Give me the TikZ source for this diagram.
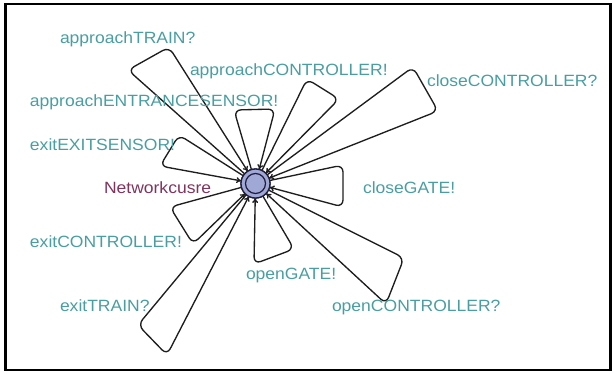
\documentclass[tikz,border=0pt]{standalone}
\usepackage{fontspec}
\setmainfont{Liberation Sans}[FakeStretch=1.075]
\usetikzlibrary{arrows.meta}
\definecolor{synccol}{RGB}{72,158,160}
\definecolor{namecol}{RGB}{128,52,92}
\definecolor{statefill}{RGB}{160,168,214}
\definecolor{stateline}{RGB}{30,30,60}
\definecolor{edgecol}{RGB}{30,30,30}
\tikzset{
  lbl/.style={anchor=base west, inner sep=0pt, outer sep=0pt, text=synccol,
              font=\fontsize{16.3}{18}\selectfont},
  locname/.style={lbl, text=namecol},
  loc/.style={circle, draw=stateline, line width=1.3pt, fill=statefill,
              minimum size=29pt, inner sep=0pt, outer sep=0pt},
  locinner/.style={circle, draw=stateline, line width=1.2pt,
              minimum size=20pt, inner sep=0pt, outer sep=0pt},
  selfloop/.style={draw=edgecol, line width=1.35pt, rounded corners=7pt,
              -{To[length=5pt,width=6pt]}},
}
\begin{document}
\begin{tikzpicture}[x=1pt,y=-1pt]
\useasboundingbox (0,0) rectangle (614,373);
% frame
\draw[line width=2.5pt] (5.5,4) rectangle (610.5,370);

% the single location
\node[loc] (s) at (255.5,183.5) {};
\node[locinner] (sin) at (s.center) {};

% nails of the self-loops
\coordinate (aTrainA) at (128,70);  \coordinate (aTrainB) at (169,47);
\coordinate (aCtrlA)  at (307,79);  \coordinate (aCtrlB)  at (339,99);
\coordinate (cCtrlA)  at (413,67);  \coordinate (cCtrlB)  at (438,111);
\coordinate (aEntrA)  at (234,110); \coordinate (aEntrB)  at (275,109);
\coordinate (eExitA)  at (179,135); \coordinate (eExitB)  at (160,166);
\coordinate (cGateA)  at (343,165); \coordinate (cGateB)  at (343,207);
\coordinate (oCtrlA)  at (404,258); \coordinate (oCtrlB)  at (386,304);
\coordinate (oGateA)  at (294,249); \coordinate (oGateB)  at (254,264);
\coordinate (eTrainA) at (138,325); \coordinate (eTrainB) at (167,355);
\coordinate (eCtrlA)  at (170,207); \coordinate (eCtrlB)  at (193,244);

% self-loops
\draw[selfloop] (s) -- (aTrainA) -- (aTrainB) -- (s);
\draw[selfloop] (s) -- (aCtrlA) -- (aCtrlB) -- (s);
\draw[selfloop] (s) -- (cCtrlA) -- (cCtrlB) -- (s);
\draw[selfloop] (s) -- (aEntrA) -- (aEntrB) -- (s);
\draw[selfloop] (s) -- (eExitA) -- (eExitB) -- (s);
\draw[selfloop] (s) -- (cGateA) -- (cGateB) -- (s);
\draw[selfloop] (s) -- (oCtrlA) -- (oCtrlB) -- (s);
\draw[selfloop] (s) -- (oGateA) -- (oGateB) -- (s);
\draw[selfloop] (s) -- (eTrainA) -- (eTrainB) -- (s);
\draw[selfloop] (s) -- (eCtrlA) -- (eCtrlB) -- (s);

% redraw the location on top of the edge ends
\node[loc] (stop) at (s.center) {};
\node[locinner] (stopin) at (s.center) {};

% labels
\node[locname] (nm) at (104,193) {Networkcusre};
\node[lbl] (lATrain) at (60,43)  {approachTRAIN?};
\node[lbl] (lACtrl)  at (190,75) {approachCONTROLLER!};
\node[lbl] (lCCtrl)  at (427,86) {closeCONTROLLER?};
\node[lbl] (lAEntr)  at (30,106.5) {approachENTRANCESENSOR!};
\node[lbl] (lEExit)  at (30,150) {exitEXITSENSOR!};
\node[lbl] (lCGate)  at (363,193) {closeGATE!};
\node[lbl] (lECtrl)  at (30,247) {exitCONTROLLER!};
\node[lbl] (lOGate)  at (246,279) {openGATE!};
\node[lbl] (lETrain) at (60,311) {exitTRAIN?};
\node[lbl] (lOCtrl)  at (332,311) {openCONTROLLER?};
\end{tikzpicture}
\end{document}
